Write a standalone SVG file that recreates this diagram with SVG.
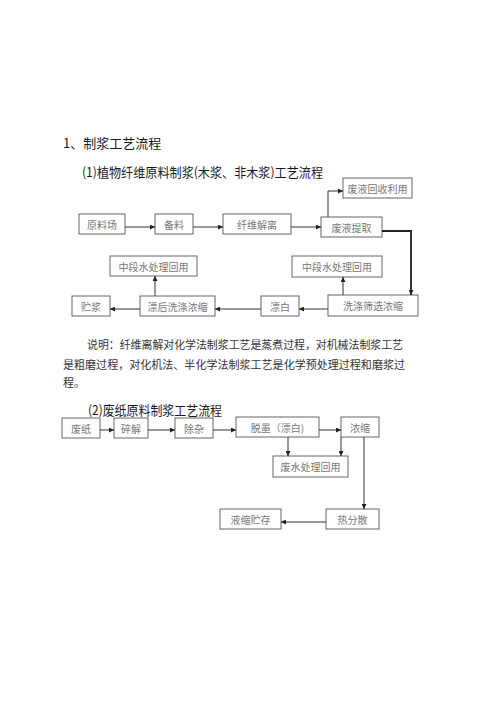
<svg xmlns="http://www.w3.org/2000/svg" width="500" height="708" viewBox="0 0 500 708">
<style>
.box{fill:#fff;stroke:#666;stroke-width:1}
.bt{font-family:"Noto Sans CJK SC","Noto Sans",sans-serif;font-size:10px;fill:#777;text-anchor:middle;dominant-baseline:central}
.h{font-family:"Noto Sans CJK SC","Noto Sans",sans-serif;fill:#1a1a1a}
.p{font-family:"Noto Sans CJK SC","Noto Sans",sans-serif;font-size:11px;fill:#333}
.c{fill:none;stroke:#333;stroke-width:1}
.thick{stroke-width:1.8;stroke:#222}
</style>
<defs>
<marker id="ah" viewBox="0 0 10 10" refX="10" refY="5" markerWidth="5" markerHeight="5" orient="auto" markerUnits="userSpaceOnUse">
<path d="M0,0 L10,5 L0,10 z" fill="#222"/>
</marker>
</defs>
<rect width="500" height="708" fill="#fff"/>
<text class="h" x="63" y="148" font-size="13">1、制浆工艺流程</text>
<text class="h" x="82" y="177" font-size="13" textLength="241" lengthAdjust="spacingAndGlyphs">(1)植物纤维原料制浆(木浆、非木浆)工艺流程</text>

<g id="n1"><rect class="box" x="79" y="214" width="46" height="20"/><text class="bt" x="102" y="224">原料场</text></g>
<g id="n2"><rect class="box" x="155" y="214" width="38" height="20"/><text class="bt" x="174" y="224">备料</text></g>
<g id="n3"><rect class="box" x="223" y="214" width="68" height="20"/><text class="bt" x="257" y="224">纤维解离</text></g>
<g id="n4"><rect class="box" x="321" y="217" width="61" height="20"/><text class="bt" x="351.5" y="227">废液提取</text></g>
<g id="n5"><rect class="box" x="343" y="178" width="69" height="20"/><text class="bt" x="377.5" y="188">废液回收利用</text></g>
<g id="n6"><rect class="box" x="328" y="295" width="90" height="21"/><text class="bt" x="373" y="305.5">洗涤筛选浓缩</text></g>
<g id="n7"><rect class="box" x="292" y="256" width="90" height="21"/><text class="bt" x="337" y="266.5">中段水处理回用</text></g>
<g id="n8"><rect class="box" x="261" y="296" width="38" height="20"/><text class="bt" x="280" y="306">漂白</text></g>
<g id="n9"><rect class="box" x="140" y="296" width="75" height="20"/><text class="bt" x="177.5" y="306">漂后洗涤浓缩</text></g>
<g id="n10"><rect class="box" x="110" y="256" width="87" height="20"/><text class="bt" x="153.5" y="266">中段水处理回用</text></g>
<g id="n11"><rect class="box" x="72" y="296" width="38" height="20"/><text class="bt" x="91" y="306">贮浆</text></g>

<text class="p" x="87" y="349" textLength="316" lengthAdjust="spacingAndGlyphs">说明：纤维离解对化学法制浆工艺是蒸煮过程，对机械法制浆工艺</text>
<text class="p" x="63" y="369" textLength="342" lengthAdjust="spacingAndGlyphs">是粗磨过程，对化机法、半化学法制浆工艺是化学预处理过程和磨浆过</text>
<text class="p" x="63" y="387">程。</text>

<text class="h" x="88" y="415" font-size="13" textLength="134" lengthAdjust="spacingAndGlyphs">(2)废纸原料制浆工艺流程</text>

<g id="m1"><rect class="box" x="62" y="418" width="38" height="20"/><text class="bt" x="81" y="428">废纸</text></g>
<g id="m2"><rect class="box" x="114" y="418" width="34" height="20"/><text class="bt" x="131" y="428">碎解</text></g>
<g id="m3"><rect class="box" x="175" y="418" width="38" height="20"/><text class="bt" x="194" y="428">除杂</text></g>
<g id="m4"><rect class="box" x="236" y="417" width="83" height="20"/><text class="bt" x="277.5" y="427">脱墨（漂白)</text></g>
<g id="m5"><rect class="box" x="341" y="417" width="38" height="20"/><text class="bt" x="360" y="427">浓缩</text></g>
<g id="m6"><rect class="box" x="273" y="456" width="75" height="21"/><text class="bt" x="310.5" y="466.5">废水处理回用</text></g>
<g id="m7"><rect class="box" x="326" y="509" width="53" height="20"/><text class="bt" x="352.5" y="519">热分散</text></g>
<g id="m8"><rect class="box" x="220" y="509" width="61" height="20"/><text class="bt" x="250.5" y="519">液缩贮存</text></g>

<g id="connectors">
<path class="c" d="M125,227 H155" marker-end="url(#ah)"/>
<path class="c" d="M193,227 H223" marker-end="url(#ah)"/>
<path class="c" d="M291,227 H321" marker-end="url(#ah)"/>
<path class="c" d="M328,217 V191 H343" marker-end="url(#ah)"/>
<path class="c thick" d="M382,231 H411 V295" marker-end="url(#ah)"/>
<path class="c" d="M343,295 V277" marker-end="url(#ah)"/>
<path class="c" d="M328,309 H299" marker-end="url(#ah)"/>
<path class="c" d="M261,309 H215" marker-end="url(#ah)"/>
<path class="c" d="M155,296 V276" marker-end="url(#ah)"/>
<path class="c" d="M140,309 H110" marker-end="url(#ah)"/>
<path class="c" d="M100,430 H114" marker-end="url(#ah)"/>
<path class="c" d="M148,430 H175" marker-end="url(#ah)"/>
<path class="c" d="M213,430 H236" marker-end="url(#ah)"/>
<path class="c" d="M319,430 H341" marker-end="url(#ah)"/>
<path class="c" d="M288,437 V456" marker-end="url(#ah)"/>
<path class="c" d="M341,437 V456" marker-end="url(#ah)"/>
<path class="c" d="M364,437 V509" marker-end="url(#ah)"/>
<path class="c" d="M326,522 H281" marker-end="url(#ah)"/>
</g>
</svg>
